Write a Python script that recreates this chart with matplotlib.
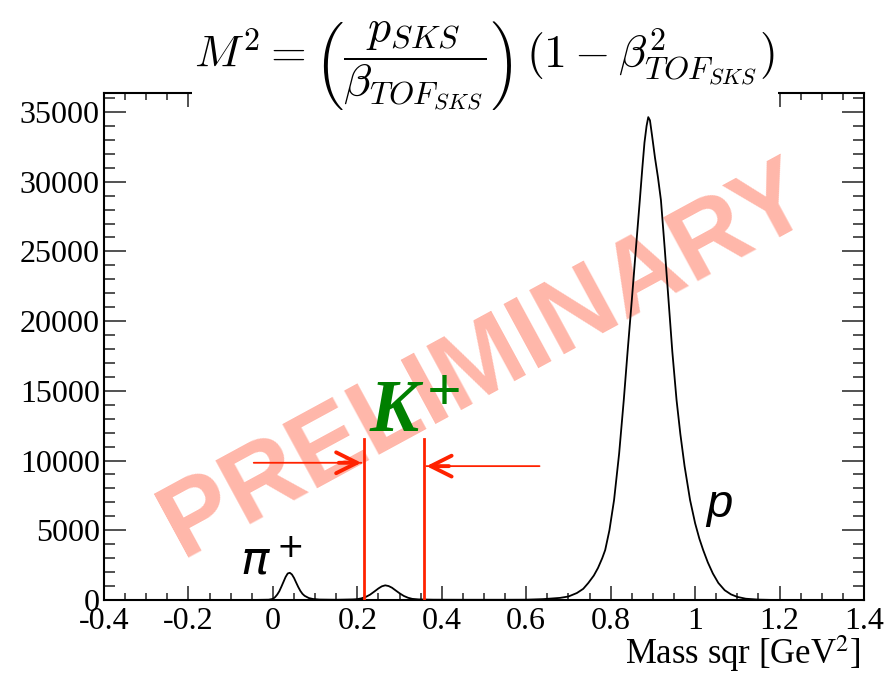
import matplotlib
matplotlib.use('Agg')
import matplotlib.pyplot as plt
from matplotlib.ticker import MultipleLocator

# values
mass_sqr = [-0.40, -0.05, -0.01, 0.000, 0.005, 0.010, 0.015, 0.020, 0.025, 0.030,
            0.035, 0.040, 0.045, 0.050, 0.055, 0.060, 0.065, 0.070, 0.075, 0.085,
            0.095, 0.110, 0.150, 0.190, 0.200, 0.210, 0.220, 0.230, 0.240, 0.250,
            0.258, 0.266, 0.274, 0.282, 0.290, 0.300, 0.310, 0.320, 0.330, 0.345,
            0.380, 0.450, 0.550, 0.600, 0.640, 0.680, 0.700, 0.720, 0.735, 0.747,
            0.760, 0.770, 0.780, 0.787, 0.797, 0.808, 0.820, 0.831, 0.840, 0.850,
            0.860, 0.869, 0.875, 0.880, 0.885, 0.889, 0.893, 0.898, 0.905, 0.912,
            0.919, 0.928, 0.937, 0.946, 0.956, 0.965, 0.975, 0.988, 1.000, 1.010,
            1.019, 1.030, 1.042, 1.055, 1.070, 1.085, 1.100, 1.120, 1.150, 1.180,
            1.250, 1.400]
counts = [0, 0, 20, 80, 200, 380, 620, 950, 1300, 1650,
          1900, 1950, 1830, 1580, 1250, 930, 650, 440, 300, 140,
          70, 30, 15, 40, 60, 120, 220, 380, 600, 830,
          980, 1050, 1000, 880, 700, 480, 290, 160, 80, 40,
          20, 15, 15, 20, 60, 150, 250, 500, 800, 1220,
          1750, 2300, 3000, 3585, 5000, 7170, 10500, 14340, 17800, 21500,
          25300, 28680, 31000, 32800, 34000, 34630, 34400, 33300, 31700, 30300,
          28680, 25200, 21500, 17800, 14340, 11900, 9600, 7170, 5500, 4400,
          3585, 2700, 1900, 1220, 700, 400, 220, 90, 25, 5,
          0, 0]

x_ticks = [-0.4, -0.2, 0, 0.2, 0.4, 0.6, 0.8, 1.0, 1.2, 1.4]
x_tick_labels = ['-0.4', '-0.2', '0', '0.2', '0.4', '0.6', '0.8', '1', '1.2', '1.4']
y_ticks = [0, 5000, 10000, 15000, 20000, 25000, 30000, 35000]

kaon_cut = [0.216, 0.357]
cut_height = 11540
arrow_left = (-0.052, 9840)
arrow_right = (0.638, 9600)

red = '#ff2200'
serif = 'Liberation Serif'

fig = plt.figure(figsize=(8.9, 6.73), dpi=100)
ax = fig.add_axes([0.1169, 0.1085, 0.8539, 0.7533])

# watermark
ax.text(0.505, 17100, 'PRELIMINARY', fontsize=76, fontweight='bold',
        family='Liberation Sans', color='#ffb7aa', rotation=28.5,
        ha='center', va='center', zorder=0)

ax.plot(mass_sqr, counts, color='black', lw=1.3, zorder=3)

# kaon cut
for xc in kaon_cut:
    ax.plot([xc, xc], [0, cut_height], color=red, lw=2, zorder=4)
ax.annotate('', xy=(kaon_cut[0], arrow_left[1]), xytext=arrow_left,
            arrowprops=dict(arrowstyle='-', color=red, lw=1.3))
ax.annotate('', xy=(kaon_cut[0], arrow_left[1]), xytext=(kaon_cut[0] - 0.06, arrow_left[1]),
            arrowprops=dict(arrowstyle='->,head_length=1.0,head_width=0.5',
                            color=red, lw=2.8, mutation_scale=15, shrinkA=0, shrinkB=2))
ax.annotate('', xy=(kaon_cut[1], arrow_right[1]), xytext=arrow_right,
            arrowprops=dict(arrowstyle='-', color=red, lw=1.3))
ax.annotate('', xy=(kaon_cut[1], arrow_right[1]), xytext=(kaon_cut[1] + 0.06, arrow_right[1]),
            arrowprops=dict(arrowstyle='->,head_length=1.0,head_width=0.5',
                            color=red, lw=2.8, mutation_scale=15, shrinkA=0, shrinkB=2))

# particle labels
ax.text(0.2296, 12120, 'K', fontsize=53, fontweight='bold', fontstyle='italic',
        family=serif, color='#008000', ha='left', va='baseline', zorder=5)
ax.text(0.405, 14700, '+', fontsize=44, fontweight='bold',
        family=serif, color='#008000', ha='center', va='center', zorder=5)
ax.text(-0.078, 1790, r'$\pi^+$', fontsize=34, math_fontfamily='dejavusans',
        ha='left', va='baseline', zorder=5)
ax.text(1.027, 5950, 'p', fontsize=34, fontstyle='italic', family='Liberation Sans',
        ha='left', va='baseline', zorder=5)

ax.set_xlim(-0.4, 1.4)
ax.set_ylim(0, 36360)
ax.set_xticks(x_ticks)
ax.set_xticklabels(x_tick_labels)
ax.set_yticks(y_ticks)
ax.set_yticklabels([str(v) for v in y_ticks])
ax.xaxis.set_minor_locator(MultipleLocator(0.05))
ax.yaxis.set_minor_locator(MultipleLocator(1000))
ax.tick_params(axis='both', which='both', direction='in', top=True, right=True,
               width=1.1, color='#222222')
ax.tick_params(axis='x', which='major', length=10, pad=5)
ax.tick_params(axis='x', which='minor', length=5)
ax.tick_params(axis='y', which='major', length=16, pad=3)
ax.tick_params(axis='y', which='minor', length=8)
for lab in ax.get_xticklabels() + ax.get_yticklabels():
    lab.set_family(serif)
    lab.set_fontsize(23)
for sp in ax.spines.values():
    sp.set_linewidth(1.5)

fig.text(861 / 890, 1 - 654 / 673, r'Mass sqr [GeV$^2$]', fontsize=25, family=serif,
         math_fontfamily='stix', ha='right', va='center')

fig.text(485 / 890, 1 - 66 / 673,
         r'$M^2 = \left(\dfrac{p_{SKS}}{\beta_{TOF_{SKS}}}\right)\,(1-\beta^2_{TOF_{SKS}})$',
         fontsize=33, math_fontfamily='cm', ha='center', va='center', zorder=10,
         bbox=dict(facecolor='white', edgecolor='none', pad=2))

fig.savefig('out.png', dpi=100)
